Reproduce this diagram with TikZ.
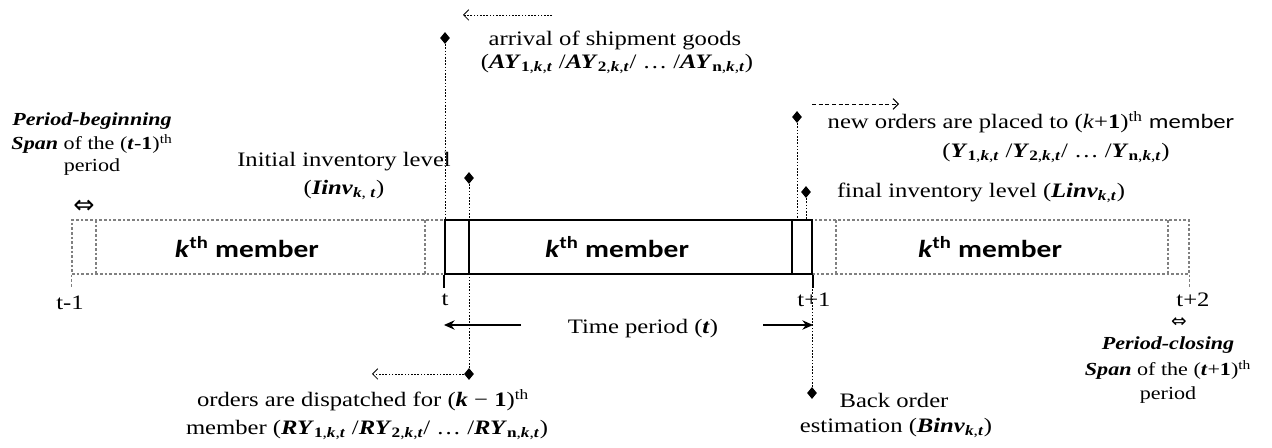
\documentclass[tikz,border=0pt]{standalone}
\usepackage{fontspec}
\setmainfont{Liberation Serif}[FakeStretch=1.2]
\newfontfamily\memfont{Carlito}[FakeStretch=1.2]
\newfontfamily\symfont{DejaVu Sans}
\usetikzlibrary{shapes.geometric,arrows.meta}
\newcommand\bi[1]{\textbf{\textit{#1}}}
\newcommand\sbs[1]{\textsubscript{#1}}
\begin{document}
\begin{tikzpicture}[x=0.75pt,y=-0.75pt,
  txt/.style={inner sep=0pt, font=\fontsize{15.4}{18}\selectfont},
  smalltxt/.style={inner sep=0pt, font=\fontsize{13.8}{16}\selectfont},
  memtxt/.style={inner sep=0pt, font=\memfont\bfseries\fontsize{18.4}{20}\selectfont},
  dia/.style={diamond, fill=black, inner sep=0pt, minimum width=7.5pt, minimum height=9pt},
  dotline/.style={line width=0.6pt, dash pattern=on 1.2pt off 1.2pt},
  ghost/.style={draw=gray, line width=0.8pt, dash pattern=on 2pt off 1.5pt},
  mainbox/.style={draw, line width=1.6pt},
  tick/.style={line width=1.6pt},
]
\useasboundingbox (0,0) rectangle (1272,448);

% boxes
\node[ghost, inner sep=0pt, minimum width=279.75pt, minimum height=40.5pt] (prev) at (258.5,247) {};
\node[ghost, inner sep=0pt, minimum width=282.75pt, minimum height=40.5pt] (next) at (1000.5,247) {};
\node[mainbox, inner sep=0pt, minimum width=275.25pt, minimum height=40.5pt] (cur) at (628.5,247) {};
\draw[ghost] (96,220) -- (96,274);
\draw[ghost] (425,220) -- (425,274);
\draw[ghost] (836,220) -- (836,274);
\draw[ghost] (1168,220) -- (1168,274);
\draw[tick] (469,220) -- (469,274);
\draw[tick] (792,220) -- (792,274);

% ticks
\draw[tick] (cur.south west) -- ++(0,13);
\draw[tick] (cur.south east) -- ++(0,13);
\draw[ghost] (prev.south west) -- ++(0,13);
\draw[ghost] (next.south east) -- ++(0,13);

% member labels
\node[memtxt] (m1) at (247,247) {\textit{k}\textsuperscript{th} member};
\node[memtxt] (m2) at (617,247) {\textit{k}\textsuperscript{th} member};
\node[memtxt] (m3) at (990,247) {\textit{k}\textsuperscript{th} member};

% time labels
\node[txt] (t0) at (70,303) {t-1};
\node[txt] (t1) at (445,300) {t};
\node[txt] (t2) at (814,300) {t+1};
\node[txt] (t3) at (1193,300) {t+2};

% diamonds
\node[dia] (dA) at (445,38) {};
\node[dia] (dB) at (469,178) {};
\node[dia] (dC) at (797,117) {};
\node[dia] (dD) at (806,192) {};
\node[dia] (dE) at (469,374) {};
\node[dia] (dF) at (812,393) {};
\draw[dotline] (dA) -- (dA |- cur.north);
\draw[dotline] (dB) -- (dB |- cur.north);
\draw[dotline] (dC) -- (dC |- cur.north);
\draw[dotline] (dD) -- (dD |- cur.north);
\draw[dotline] (dE) -- (dE |- cur.south);
\draw[dotline] (dF) -- (dF |- cur.south);

% arrows
\coordinate (a1s) at (552,15);
\coordinate (a1e) at (463,15);
\draw[dotline, -{Straight Barb[length=4pt,width=8pt]}] (a1s) -- (a1e);
\coordinate (a2s) at (812,104);
\coordinate (a2e) at (899,104);
\draw[line width=0.7pt, dash pattern=on 3pt off 2pt, -{Straight Barb[length=4pt,width=8pt]}] (a2s) -- (a2e);
\coordinate (a3e) at (372,374);
\draw[dotline, -{Straight Barb[length=4pt,width=8pt]}] (dE) -- (a3e);

\node[txt] (time) at (643,329) {Time period (\bi{t})};
\coordinate (tl) at (521,325);
\coordinate (tr) at (763,325);
\draw[line width=1.1pt, -{Stealth[length=8pt,width=7pt]}] (tl) -- (cur.south west |- tl);
\draw[line width=1.1pt, -{Stealth[length=8pt,width=7pt]}] (tr) -- (cur.south east |- tr);

% span arrows
\node[inner sep=0pt, font=\symfont\fontsize{19}{19}\selectfont] (sp1) at (84,207) {⇔};
\node[inner sep=0pt, font=\symfont\fontsize{14}{14}\selectfont] (sp2) at (1179,323) {⇔};

% texts
\node[txt] (arrA) at (615,40) {arrival of shipment goods};
\node[txt] (arrB) at (617,64) {(\bi{AY}\sbs{\textbf{1},\bi{k},\bi{t}} /\bi{AY}\sbs{\textbf{2},\bi{k},\bi{t}}/ … /\bi{AY}\sbs{\textbf{n},\bi{k},\bi{t}})};

\node[smalltxt] (pb1) at (92,121) {\bi{Period-beginning}};
\node[smalltxt] (pb2) at (92,144) {\bi{Span} of the (\bi{t}-\textbf{1})\textsuperscript{th}};
\node[smalltxt] (pb3) at (92,167) {period};

\node[txt] (in1) at (344,162) {Initial inventory level};
\node[txt] (in2) at (344,190) {(\bi{Iinv}\sbs{\bi{k}, \bi{t}})};

\node[txt] (no1) at (1031,122) {new orders are placed to (\textit{k}+\textbf{1})\textsuperscript{th} {\memfont member}};
\node[txt] (no2) at (1056,153) {(\bi{Y}\sbs{\textbf{1},\bi{k},\bi{t}} /\bi{Y}\sbs{\textbf{2},\bi{k},\bi{t}}/ … /\bi{Y}\sbs{\textbf{n},\bi{k},\bi{t}})};

\node[txt] (fi) at (981,193) {final inventory level (\bi{Linv}\sbs{\bi{k},\bi{t}})};

\node[txt] (od1) at (363,400) {orders are dispatched for (\bi{k} − \textbf{1})\textsuperscript{th}};
\node[txt] (od2) at (367,430) {member (\bi{RY}\sbs{\textbf{1},\bi{k},\bi{t}} /\bi{RY}\sbs{\textbf{2},\bi{k},\bi{t}}/ … /\bi{RY}\sbs{\textbf{n},\bi{k},\bi{t}})};

\node[txt] (bo1) at (894,400) {Back order};
\node[txt] (bo2) at (896,428) {estimation (\bi{Binv}\sbs{\bi{k},\bi{t}})};

\node[smalltxt] (pc1) at (1168,345) {\bi{Period-closing}};
\node[smalltxt] (pc2) at (1168,370) {\bi{Span} of the (\bi{t}+\textbf{1})\textsuperscript{th}};
\node[smalltxt] (pc3) at (1168,395) {period};
\end{tikzpicture}
\end{document}
